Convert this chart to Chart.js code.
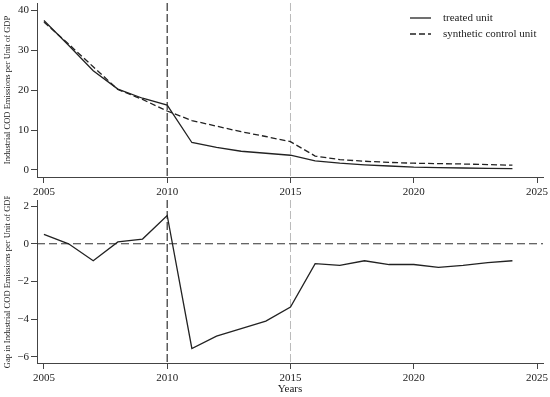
<!DOCTYPE html>
<html>
<head>
<meta charset="utf-8">
<script src="https://cdn.jsdelivr.net/npm/chart.js@4.4.1/dist/chart.umd.min.js"></script>
<style>
  html, body { margin: 0; padding: 0; background: #fff; }
  #wrap { position: relative; width: 550px; height: 397px; }
  #top { position: absolute; left: 0; top: 0; }
  #bottom { position: absolute; left: 0; top: 196px; }
</style>
</head>
<body>
<div id="wrap">
  <canvas id="top" width="550" height="198"></canvas>
  <canvas id="bottom" width="550" height="201"></canvas>
</div>
<script>
// data
const years = [2005, 2006, 2007, 2008, 2009, 2010, 2011, 2012, 2013, 2014,
               2015, 2016, 2017, 2018, 2019, 2020, 2021, 2022, 2023, 2024];
const treated = [37.5, 31.3, 24.9, 20.3, 18.0, 16.3, 6.9, 5.7, 4.7, 4.2,
                 3.7, 2.3, 1.7, 1.3, 1.0, 0.7, 0.6, 0.5, 0.42, 0.35];
const synthetic = [37.1, 31.6, 25.9, 20.2, 17.7, 14.8, 12.4, 11.0, 9.6, 8.4,
                   7.1, 3.5, 2.6, 2.2, 1.9, 1.7, 1.6, 1.5, 1.35, 1.2];
const gap = [0.5, 0.0, -0.9, 0.1, 0.25, 1.5, -5.55, -4.9, -4.5, -4.1,
             -3.35, -1.05, -1.15, -0.9, -1.1, -1.1, -1.25, -1.15, -1.0, -0.9];
const xTicks = [2005, 2010, 2015, 2020, 2025];
const topTicks = [0, 10, 20, 30, 40];
const gapTicks = [-6, -4, -2, 0, 2];
const treatYear = 2010;
const policyYear = 2015;

const serif = "'Liberation Serif', 'Times New Roman', serif";
const ink = "#222";
const axisCol = "#444";

function pts(ys) {
  return years.map((x, i) => ({ x: x, y: ys[i] }));
}

// dashed reference lines, placed with the chart's own scales
const refLines = {
  id: "refLines",
  beforeDatasetsDraw(chart, args, opts) {
    const { ctx, chartArea: a, scales } = chart;
    ctx.save();
    (opts.x || []).forEach(l => {
      const px = scales.x.getPixelForValue(l.value);
      ctx.strokeStyle = l.color; ctx.lineWidth = l.width || 1;
      ctx.setLineDash(l.dash);
      ctx.beginPath(); ctx.moveTo(px, a.top); ctx.lineTo(px, a.bottom); ctx.stroke();
    });
    (opts.y || []).forEach(l => {
      const py = scales.y.getPixelForValue(l.value);
      ctx.strokeStyle = l.color; ctx.lineWidth = l.width || 1;
      ctx.setLineDash(l.dash);
      ctx.beginPath(); ctx.moveTo(a.left, py); ctx.lineTo(a.right, py); ctx.stroke();
    });
    ctx.restore();
  }
};

// stata-like legend in the top right of the plot
const innerLegend = {
  id: "innerLegend",
  afterDraw(chart, args, opts) {
    if (!opts.show) return;
    const ctx = chart.ctx;
    ctx.save();
    ctx.font = "11px " + serif;
    ctx.textBaseline = "middle";
    chart.data.datasets.forEach((ds, i) => {
      const y = opts.y + i * opts.step;
      ctx.strokeStyle = ds.borderColor; ctx.lineWidth = ds.borderWidth;
      ctx.setLineDash(ds.borderDash || []);
      ctx.beginPath(); ctx.moveTo(opts.x, y); ctx.lineTo(opts.x + 21, y); ctx.stroke();
      ctx.fillStyle = ink;
      ctx.fillText(ds.label, opts.x + 33, y);
    });
    ctx.restore();
  }
};

function makeScales(yMin, yMax, yTicks, yTitle, xTitle, xHeight) {
  return {
    x: {
      type: "linear",
      min: 2004.72,
      max: 2025.24,
      afterBuildTicks: s => { s.ticks = xTicks.map(v => ({ value: v })); },
      afterFit: s => { s.height = xHeight; s.paddingLeft = 0; s.paddingRight = 0; },
      grid: { drawOnChartArea: false, drawTicks: true, tickLength: 6, color: axisCol },
      border: { display: true, color: axisCol, width: 1 },
      ticks: { color: ink, padding: 3, maxRotation: 0, font: { family: serif, size: 11 },
               callback: v => String(v) },
      title: { display: !!xTitle, text: xTitle || "", color: ink,
               padding: { top: 0, bottom: 1 }, font: { family: serif, size: 11 } }
    },
    y: {
      min: yMin,
      max: yMax,
      afterBuildTicks: s => { s.ticks = yTicks.map(v => ({ value: v })); },
      afterFit: s => { s.width = 37; s.paddingTop = 0; s.paddingBottom = 0; },
      grid: { drawOnChartArea: false, drawTicks: true, tickLength: 6, color: axisCol },
      border: { display: true, color: axisCol, width: 1 },
      ticks: { color: ink, padding: 2, font: { family: serif, size: 11 },
               callback: v => String(v).replace("-", "\u2212") },
      title: { display: true, text: yTitle, color: ink,
               padding: { top: 3, bottom: 0 }, font: { family: serif, size: 8.5 } }
    }
  };
}

const vLines = [
  { value: treatYear, color: "#333", dash: [8, 3], width: 1.2 },
  { value: policyYear, color: "#bbb", dash: [8, 3], width: 1 }
];

new Chart(document.getElementById("top").getContext("2d"), {
  type: "line",
  data: {
    datasets: [
      { label: "treated unit", data: pts(treated), borderColor: ink,
        borderWidth: 1.3, pointRadius: 0, tension: 0, fill: false },
      { label: "synthetic control unit", data: pts(synthetic), borderColor: ink,
        borderWidth: 1.3, borderDash: [6, 3], pointRadius: 0, tension: 0, fill: false }
    ]
  },
  options: {
    responsive: false,
    animation: false,
    layout: { padding: { top: 3, right: 7, left: 0, bottom: 0 } },
    scales: makeScales(-1.76, 41.9, topTicks,
      "Industrial COD Emissions per Unit of GDP", null, 21),
    plugins: {
      legend: { display: false },
      tooltip: { enabled: false },
      refLines: { x: vLines },
      innerLegend: { show: true, x: 410, y: 18, step: 16 }
    }
  },
  plugins: [refLines, innerLegend]
});

new Chart(document.getElementById("bottom").getContext("2d"), {
  type: "line",
  data: {
    datasets: [
      { label: "gap", data: pts(gap), borderColor: ink,
        borderWidth: 1.3, pointRadius: 0, tension: 0, fill: false }
    ]
  },
  options: {
    responsive: false,
    animation: false,
    layout: { padding: { top: 4, right: 7, left: 0, bottom: 0 } },
    scales: makeScales(-6.32, 2.32, gapTicks,
      "Gap in Industrial COD Emissions per Unit of GDP", "Years", 34),
    plugins: {
      legend: { display: false },
      tooltip: { enabled: false },
      refLines: { x: vLines, y: [{ value: 0, color: "#333", dash: [8, 4], width: 1.2 }] },
      innerLegend: { show: false }
    }
  },
  plugins: [refLines, innerLegend]
});
</script>
</body>
</html>
